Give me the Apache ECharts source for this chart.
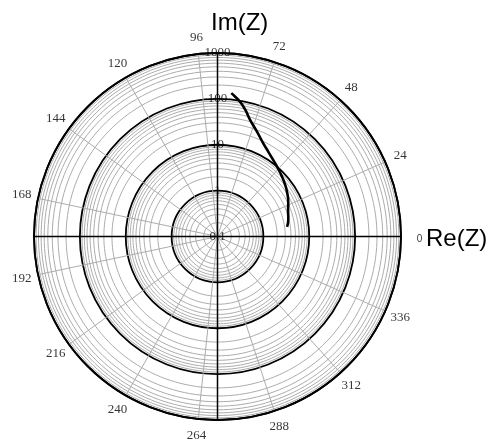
<!DOCTYPE html>
<html><head><meta charset="utf-8">
<script src="https://cdn.jsdelivr.net/npm/echarts@6/dist/echarts.min.js"></script>
<style>html,body{margin:0;padding:0;background:#fff}#c{width:495px;height:442px}</style>
</head><body><div id="c"></div>
<script>
// Data
const angleTickLabels = [0,24,48,72,96,120,144,168,192,216,240,264,288,312,336];
const radiusTickLabels = [0.1,1,10,100,1000];
const decades = [0.1,1,10,100];
const minorFactors = [2,3,4,5,6,7,8,9];
const curveAngle = [84.5, 83.0, 80.5, 77.5, 74.4, 69.5, 64.1, 59.0, 54.0, 48.5, 42.7, 37.0, 32.0, 26.0, 20.6, 14.0, 7.8];
const curveMag   = [138, 120, 95, 66, 43.8, 28, 18.6, 14.2, 11.6, 9.7, 8.25, 7.1, 6.2, 5.2, 4.4, 3.9, 3.4];
// radius (in axis units) at which the angle labels sit, just outside the 1000 circle
const angleLabelRadius = 2290;

const circleAngles = [];
for (let a = 0; a <= 360; a += 2) circleAngles.push(a);

const series = [];
// minor log circles
decades.forEach(d => minorFactors.forEach(k => {
  const r = d * k;
  series.push({type:'line', coordinateSystem:'polar', silent:true, showSymbol:false, z:1,
    lineStyle:{color:'#acacac', width:1}, data: circleAngles.map(a => [r, a])});
}));
// cross axes
series.push({type:'line', coordinateSystem:'polar', silent:true, showSymbol:false, z:3,
  lineStyle:{color:'#000', width:1.5}, data:[[1000,0],[1000,180]]});
series.push({type:'line', coordinateSystem:'polar', silent:true, showSymbol:false, z:3,
  lineStyle:{color:'#000', width:1.5}, data:[[1000,90],[1000,270]]});
// curve
series.push({type:'line', coordinateSystem:'polar', silent:true, showSymbol:false, smooth:true, z:5,
  lineStyle:{color:'#000', width:2.6}, data: curveMag.map((m,i) => [m, curveAngle[i]])});
// radius labels
series.push({type:'scatter', coordinateSystem:'polar', silent:true, symbolSize:1, z:6,
  itemStyle:{color:'rgba(0,0,0,0)'},
  label:{show:true, position:'inside', color:'#000', textBorderWidth:0, fontFamily:'Liberation Serif', fontSize:13,
    formatter: p => String(p.value[0])},
  data: radiusTickLabels.map(v => [v, 90])});
// angle labels
series.push({type:'scatter', coordinateSystem:'polar', silent:true, symbolSize:1, z:6, clip:false,
  itemStyle:{color:'rgba(0,0,0,0)'},
  label:{show:true, position:'inside', color:'#000', textBorderWidth:0, fontFamily:'Liberation Serif', fontSize:13,
    formatter: p => p.value[1] === 0 ? '{s|0}' : String(p.value[1]),
    rich:{s:{fontFamily:'Liberation Sans', fontSize:10, color:'#000', padding:[6,0,0,4]}}},
  data: angleTickLabels.map(a => [angleLabelRadius, a])});

const chart = echarts.init(document.getElementById('c'));
chart.setOption({
  animation:false,
  title:[
    {text:'Im(Z)', left:206, top:6, textStyle:{fontFamily:'Liberation Sans', fontSize:24, fontWeight:'normal', color:'#000'}},
    {text:'Re(Z)', left:421, top:222, textStyle:{fontFamily:'Liberation Sans', fontSize:24, fontWeight:'normal', color:'#000'}}
  ],
  polar:{center:[217.5,236.5], radius:183.5},
  angleAxis:{type:'value', min:0, max:360, interval:24, startAngle:0, clockwise:false,
    axisLine:{lineStyle:{color:'#000', width:1.8}}, axisTick:{show:false},
    axisLabel:{show:false},
    splitLine:{lineStyle:{color:'#acacac', width:1}}},
  radiusAxis:{type:'log', logBase:10, min:0.1, max:1000,
    axisLine:{show:false}, axisTick:{show:false}, axisLabel:{show:false},
    splitLine:{show:true, lineStyle:{color:'#000', width:1.8}}},
  series: series
});
</script></body></html>
